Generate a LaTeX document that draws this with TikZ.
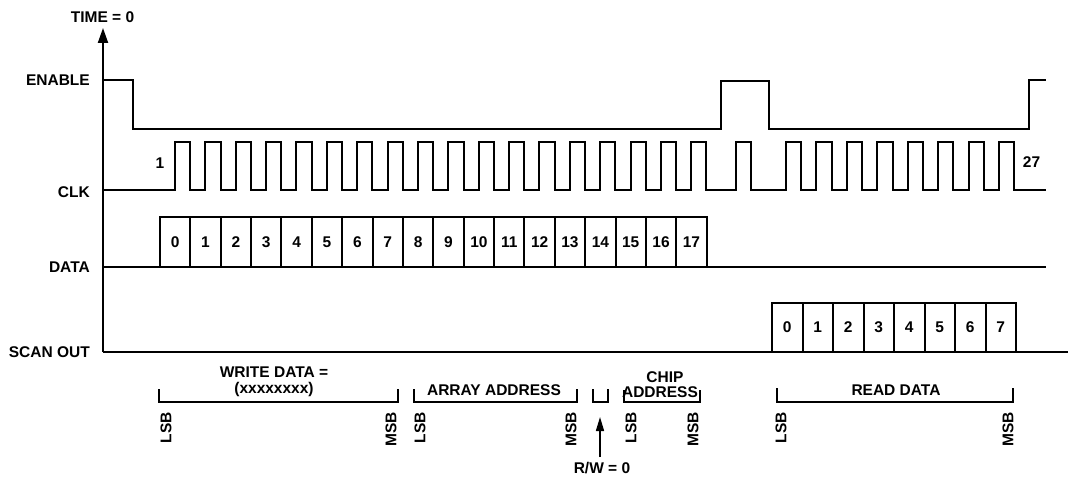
\documentclass[tikz,border=0pt]{standalone}
\usepackage{fontspec}
\setmainfont{Liberation Sans}
\usetikzlibrary{arrows.meta}
\begin{document}
\begin{tikzpicture}[x=1pt,y=-1pt,
  wave/.style={line width=2pt, line join=miter},
  lbl/.style={font=\bfseries\fontsize{15.5}{18}\selectfont, inner sep=0pt},
  sidelbl/.style={lbl, anchor=east},
  bitlbl/.style={lbl, rotate=90, anchor=east},
  bitbox/.style={draw, line width=2pt, minimum width=30.37pt, minimum height=50pt, inner sep=0pt, font=\bfseries\fontsize{15.5}{18}\selectfont},
  readbox/.style={bitbox, minimum width=30.5pt, minimum height=49pt},
  bigtip/.style={-{Triangle[width=10pt,length=15pt]}},
  smalltip/.style={-{Triangle[width=8pt,length=14pt]}}]
\useasboundingbox (0,0) rectangle (1068,481);

% axis
\coordinate (origin) at (103,352);
\coordinate (timetip) at (103,28);
\node[lbl] (time) at (102.5,17) {TIME = 0};
\draw[wave, bigtip] (origin) -- (timetip);

% side labels
\node[sidelbl] (enable) at (90,80.5) {ENABLE};
\node[sidelbl] (clk) at (90,192) {CLK};
\node[sidelbl] (data) at (90,267.5) {DATA};
\node[sidelbl] (scanout) at (90,352.5) {SCAN OUT};

% ENABLE waveform
\draw[wave] (103,80) -- (133,80) -- (133,129) -- (721,129) -- (721,81) -- (769,81)
  -- (769,129) -- (1029,129) -- (1029,80) -- (1046,80);

% CLK waveform
\draw[wave] (103,190)
  foreach \k in {0,...,17} { -- ({175+30.37*\k},190) -- ({175+30.37*\k},142) -- ({190.19+30.37*\k},142) -- ({190.19+30.37*\k},190) }
  -- (736,190) -- (736,142) -- (751,142) -- (751,190)
  foreach \k in {0,...,7} { -- ({786+30.43*\k},190) -- ({786+30.43*\k},142) -- ({801.2+30.43*\k},142) -- ({801.2+30.43*\k},190) }
  -- (1046,190);
\node[lbl] (one) at (160,163) {1};
\node[lbl] (twentyseven) at (1031.5,162) {27};

% DATA line and boxes
\draw[wave] (origin |- 0,267) -- (1046,267);
\foreach \k in {0,...,17} {
  \node[bitbox] (b\k) at ({175.185+30.37*\k},242) {\k};
}

% SCAN OUT line and boxes
\draw[wave] (origin) -- (1068,352);
\foreach \k in {0,...,7} {
  \node[readbox] (r\k) at ({787.25+30.5*\k},327.5) {\k};
}

% brackets
\draw[wave] (159,389) -- (159,402) -- (398,402) -- (398,389);
\draw[wave] (414,389) -- (414,402) -- (577,402) -- (577,389);
\draw[wave] (593,389) -- (593,402) -- (608,402) -- (608,389);
\draw[wave] (624,390) -- (624,402) -- (700,402) -- (700,390);
\draw[wave] (777,388) -- (777,402) -- (1013,402) -- (1013,388);

\node[lbl] (wd1) at (274,372) {WRITE DATA =};
\node[lbl] (wd2) at (274,389.5) {(xxxxxxxx)};
\node[lbl] (aa) at (494,390.5) {ARRAY ADDRESS};
\node[lbl] (chip) at (665,377) {CHIP};
\node[lbl] (ca) at (660,392) {ADDRESS};
\node[lbl] (rd) at (896,390.5) {READ DATA};

\node[bitlbl] (wlsb) at (166,412) {LSB};
\node[bitlbl] (wmsb) at (391,412) {MSB};
\node[bitlbl] (alsb) at (420,412) {LSB};
\node[bitlbl] (amsb) at (571,412) {MSB};
\node[bitlbl] (clsb) at (631,412) {LSB};
\node[bitlbl] (cmsb) at (693,412) {MSB};
\node[bitlbl] (rlsb) at (781,412) {LSB};
\node[bitlbl] (rmsb) at (1008,412) {MSB};

% R/W arrow
\node[lbl] (rw) at (602,468.5) {R/W = 0};
\coordinate (rwbase) at (600,457);
\coordinate (rwtip) at (600,417);
\draw[line width=1.5pt, smalltip] (rwbase) -- (rwtip);
\end{tikzpicture}
\end{document}
